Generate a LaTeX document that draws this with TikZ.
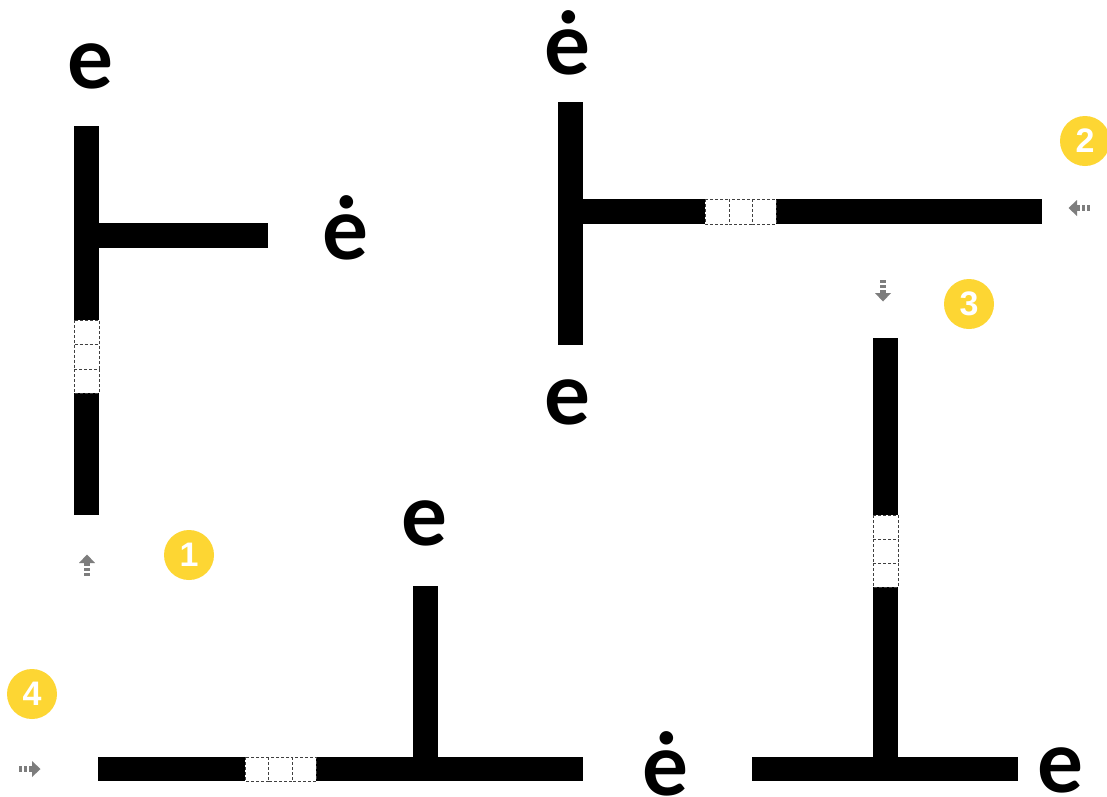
\documentclass[tikz,border=0pt]{standalone}
\usepackage{fontspec}
\setmainfont{Lato}
\newfontfamily\numfont{Liberation Sans}
\definecolor{ylw}{RGB}{253,214,51}
\definecolor{arr}{RGB}{125,125,125}
\tikzset{
  bar/.style={fill=black},
  cell/.style={draw=black!75, densely dashed, line width=0.9pt, fill=white},
  letter/.style={anchor=base, font=\fontsize{86}{90}\selectfont\bfseries, inner sep=0pt},
  badge/.style={circle, fill=ylw, minimum size=50pt, inner sep=0pt, text=white, font=\numfont\bfseries\fontsize{34}{36}\selectfont},
  darrow/.pic={
    \fill[arr] (0,-11.5) -- (8,-3) -- (-8,-3) -- cycle;
    \fill[arr] (-3.2,-3.5) rectangle (3.2,0.2);
    \fill[arr] (-3.2,2.3) rectangle (3.2,5);
    \fill[arr] (-3.2,7.2) rectangle (3.2,10);
  }
}
\begin{document}
\begin{tikzpicture}[x=1pt,y=-1pt]
\useasboundingbox (0,0) rectangle (1107,796);
\fill[white] (0,0) rectangle (1107,796);

% ---- diagram 1 ----
\fill[bar] (74,126) rectangle (99,515);
\fill[bar] (99,223) rectangle (268,248);
\draw[cell] (74,320) rectangle (99,344.5);
\draw[cell] (74,344.5) rectangle (99,369);
\draw[cell] (74,369) rectangle (99,393);
\node[letter] (e1) at (90,88) {e};
\node[letter] (d1) at (345,259) {ė};
\pic at (87,566) {darrow};
\node[badge] (b1) at (189,555) {1};

% ---- diagram 2 ----
\fill[bar] (558,102) rectangle (583,345);
\fill[bar] (583,199) rectangle (1042,224);
\draw[cell] (705,199) rectangle (729,224);
\draw[cell] (729,199) rectangle (752,224);
\draw[cell] (752,199) rectangle (776,224);
\node[letter] (d2) at (567,74) {ė};
\node[letter] (e2) at (567,424) {e};
\pic[rotate=90] at (1080,208) {darrow};
\node[badge] (b2) at (1085,141) {2};

% ---- diagram 3 ----
\fill[bar] (873,338) rectangle (898,769);
\fill[bar] (752,757) rectangle (1018,781);
\draw[cell] (873,515) rectangle (898,539);
\draw[cell] (873,539) rectangle (898,563);
\draw[cell] (873,563) rectangle (898,587);
\node[letter] (d3) at (665,795) {ė};
\node[letter] (e3) at (1060,792) {e};
\pic[rotate=180] at (883,290) {darrow};
\node[badge] (b3) at (969,304) {3};

% ---- diagram 4 ----
\fill[bar] (98,757) rectangle (583,781);
\fill[bar] (413,586) rectangle (438,769);
\draw[cell] (245,757) rectangle (268,781);
\draw[cell] (268,757) rectangle (292,781);
\draw[cell] (292,757) rectangle (316,781);
\node[letter] (e4) at (424,545) {e};
\pic[rotate=-90] at (29,769) {darrow};
\node[badge] (b4) at (32,694) {4};
\end{tikzpicture}
\end{document}
